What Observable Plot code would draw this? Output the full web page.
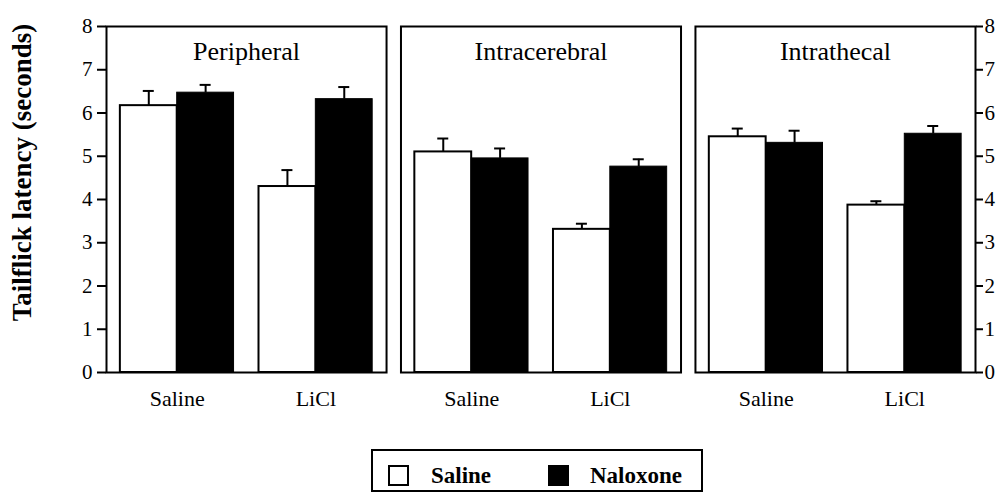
<!DOCTYPE html>
<html>
<head>
<meta charset="utf-8">
<script src="https://cdn.jsdelivr.net/npm/d3@7"></script>
<script src="https://cdn.jsdelivr.net/npm/@observablehq/plot@0.6"></script>
<style>
  body { margin: 0; background: white; font-family: "Liberation Serif", "Times New Roman", serif; }
  #wrap { position: relative; width: 1001px; height: 500px; }
  #chart svg, #chart svg text { font-family: "Liberation Serif", "Times New Roman", serif !important; }
  #legend { position: absolute; left: 371px; top: 449px; width: 328px; height: 39px; border: 2px solid black; font: bold 23px "Liberation Serif", serif; color: black; }
  #legend .sw { position: absolute; width: 17px; height: 17px; border: 2px solid black; top: 14px; }
  #legend .lb { position: absolute; top: 14px; line-height: 22px; white-space: nowrap; }
</style>
</head>
<body>
<div id="wrap">
  <div id="chart"></div>
  <div id="legend"></div>
</div>
<script>
// ---- data ----
const regions = ["Peripheral", "Intracerebral", "Intrathecal"];
const groups = ["Saline", "LiCl"];
const drugs = ["Saline", "Naloxone"];
// order: Peripheral Saline, Peripheral LiCl, Intracerebral Saline, Intracerebral LiCl, Intrathecal Saline, Intrathecal LiCl
const meanSaline   = [6.17, 4.30, 5.10, 3.31, 5.45, 3.87];
const meanNaloxone = [6.47, 6.32, 4.95, 4.76, 5.31, 5.52];
const seSaline     = [0.34, 0.38, 0.31, 0.13, 0.19, 0.09];
const seNaloxone   = [0.18, 0.28, 0.23, 0.17, 0.28, 0.18];
const yTicks = [0, 1, 2, 3, 4, 5, 6, 7, 8];
const yTitle = "Tailflick latency (seconds)";
const legendColors = ["white", "black"];

const rows = [];
regions.forEach((r, i) => groups.forEach((g, j) => {
  const k = i * 2 + j;
  rows.push({region: r, group: g, drug: drugs[0], mean: meanSaline[k], se: seSaline[k]});
  rows.push({region: r, group: g, drug: drugs[1], mean: meanNaloxone[k], se: seNaloxone[k]});
}));
const sal = rows.filter(d => d.drug === drugs[0]);
const nal = rows.filter(d => d.drug === drugs[1]);

// ---- layout ----
const W = 1001, H = 440, mL = 106, mR = 26, mT = 26, mB = 68;
const fxPI = 0.049, xPI = 0.18, xPO = 0.1;
const fxStep = (W - mL - mR) / (3 - fxPI);
const fxBw = fxStep * (1 - fxPI);
const xStep = fxBw / (2 - xPI + 2 * xPO);
const xBw = xStep * (1 - xPI);
const half = xBw / 2;
const capW = 11;
const capInset = (xBw - capW) / 2;
const serif = "Liberation Serif, Times New Roman, serif";

const common = {fx: "region", x: "group"};

const chart = Plot.plot({
  width: W, height: H,
  marginLeft: mL, marginRight: mR, marginTop: mT, marginBottom: mB,
  style: "font-family: 'Liberation Serif', serif; color: black; background: white; overflow: visible;",
  fx: {domain: regions, paddingInner: fxPI, paddingOuter: 0, axis: null, round: false},
  x: {domain: groups, paddingInner: xPI, paddingOuter: xPO, round: false},
  y: {domain: [0, 8]},
  marks: [
    Plot.barY(sal, {...common, y: "mean", fill: legendColors[0], stroke: "black", strokeWidth: 2, insetRight: half}),
    Plot.barY(nal, {...common, y: "mean", fill: legendColors[1], stroke: "black", strokeWidth: 1, insetLeft: half}),
    Plot.ruleX(sal, {...common, y1: "mean", y2: d => d.mean + d.se, dx: -half / 2, strokeWidth: 2}),
    Plot.ruleX(nal, {...common, y1: "mean", y2: d => d.mean + d.se, dx: half / 2, strokeWidth: 2}),
    Plot.tickY(sal, {...common, y: d => d.mean + d.se, dx: -half / 2, insetLeft: capInset, insetRight: capInset, strokeWidth: 2}),
    Plot.tickY(nal, {...common, y: d => d.mean + d.se, dx: half / 2, insetLeft: capInset, insetRight: capInset, strokeWidth: 2}),
    Plot.frame({stroke: "black", strokeWidth: 2}),
    Plot.axisY({anchor: "left", ticks: yTicks, tickSize: 9, tickPadding: 5, fontSize: 21, fontFamily: serif, strokeWidth: 2, label: null}),
    Plot.axisY({anchor: "right", ticks: yTicks, tickSize: 7, tickPadding: 2, fontSize: 21, fontFamily: serif, strokeWidth: 2, label: null}),
    Plot.axisX({tickSize: 0, tickPadding: 18, fontSize: 22, fontFamily: serif, label: null}),
    Plot.text(regions, {fx: d => d, text: d => d, frameAnchor: "top", lineAnchor: "top", dy: 15, fontSize: 26, fontFamily: serif}),
    Plot.text([yTitle], {fx: () => regions[0], text: d => d, frameAnchor: "left", textAnchor: "middle", rotate: -90, dx: -84, dy: -27, fontSize: 27, fontWeight: "bold", fontFamily: serif})
  ]
});
document.getElementById("chart").appendChild(chart);

// ---- legend ----
const legend = document.getElementById("legend");
const swLeft = [15, 175], lbLeft = [58, 217];
drugs.forEach((d, i) => {
  const sw = document.createElement("div");
  sw.className = "sw";
  sw.style.left = swLeft[i] + "px";
  sw.style.background = legendColors[i];
  legend.appendChild(sw);
  const lb = document.createElement("div");
  lb.className = "lb";
  lb.style.left = lbLeft[i] + "px";
  lb.textContent = d;
  legend.appendChild(lb);
});
</script>
</body>
</html>
